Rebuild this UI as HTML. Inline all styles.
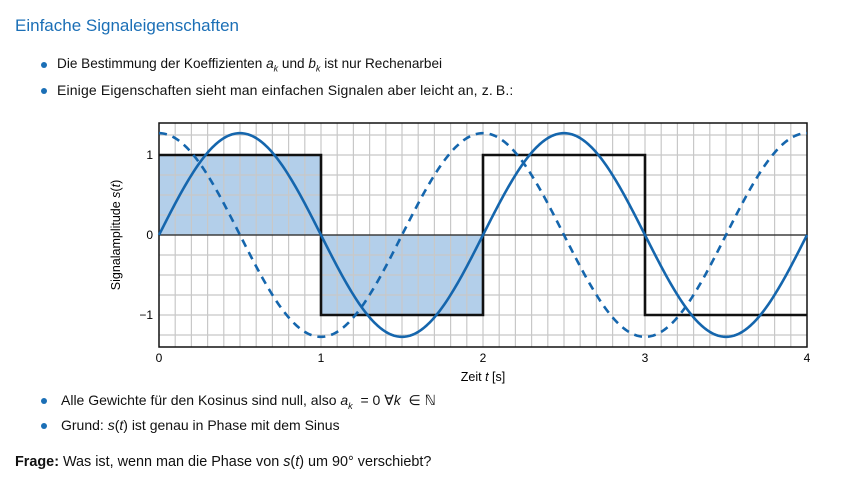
<!DOCTYPE html>
<html><head><meta charset="utf-8"><style>
body{margin:0;width:848px;height:480px;background:#fff;font-family:"Liberation Sans",sans-serif;color:#111;position:relative;overflow:hidden}
.t{position:absolute;white-space:nowrap}
.title{left:15px;top:16px;font-size:17px;color:#1b6fb6}
.b{font-size:14px}
.dot{position:absolute;width:6px;height:6px;border-radius:3px;background:#1b6fb6}
i{font-style:italic}
sub{font-size:9px}
</style></head><body>
<div class="t title">Einfache Signaleigenschaften</div>
<div class="dot" style="left:41px;top:62px"></div>
<div class="t b" style="left:57px;top:56px;font-size:13.6px">Die Bestimmung der Koeffizienten <i>a<sub>k</sub></i> und <i>b<sub>k</sub></i> ist nur Rechenarbei</div>
<div class="dot" style="left:41px;top:88px"></div>
<div class="t b" style="left:57px;top:82px;letter-spacing:0.15px">Einige Eigenschaften sieht man einfachen Signalen aber leicht an, z.&thinsp;B.:</div>
<div class="dot" style="left:41px;top:398px"></div>
<div class="t b" style="left:61px;top:392px">Alle Gewichte für den Kosinus sind null, also <i>a<sub>k</sub></i> &nbsp;= 0 ∀<i>k</i> &nbsp;∈ ℕ</div>
<div class="dot" style="left:41px;top:423px"></div>
<div class="t b" style="left:61px;top:417px">Grund: <i>s</i>(<i>t</i>) ist genau in Phase mit dem Sinus</div>
<div class="t b" style="left:15px;top:454px;font-size:14.4px"><b>Frage:</b> Was ist, wenn man die Phase von <i>s</i>(<i>t</i>) um 90° verschiebt?</div>
<svg id="chart" width="848" height="480" style="position:absolute;left:0;top:0"></svg>
<script>
const xTicks=[0,1,2,3,4];
const yTicks=[-1,0,1];
const squareT=[0,1,1,2,2,3,3,4];
const squareV=[1,1,-1,-1,1,1,-1,-1];
const fillPeriod=[0,2];
const sineAmp=[1.273];
const periodT=[2];
const NS='http://www.w3.org/2000/svg';
const svg=document.getElementById('chart');
const X0=159,X1=807,YT=123,YB=347;
const x=t=>X0+(t-0)/4*(X1-X0);
const y=v=>235-v*80;
function el(tag,a){const e=document.createElementNS(NS,tag);for(const k in a)e.setAttribute(k,a[k]);svg.appendChild(e);return e;}
let fp='M'+x(fillPeriod[0])+','+y(0);
for(let i=0;i<squareT.length;i++){if(squareT[i]<=fillPeriod[1])fp+=' L'+x(squareT[i])+','+y(squareV[i]);}
fp+=' L'+x(fillPeriod[1])+','+y(0)+'Z';
const f=el('path',{d:fp,fill:'#b3cfea'});


for(let k=1;k<40;k++){const g=el('line',{x1:x(k/10),x2:x(k/10),y1:YT,y2:YB,stroke:'#c8c8c8','stroke-width':1.2});

}
for(let v=-1.25;v<=1.26;v+=0.25){const g=el('line',{x1:X0,x2:X1,y1:y(v),y2:y(v),stroke:'#c8c8c8','stroke-width':1.2});

}
el('line',{x1:X0,x2:X1,y1:y(0),y2:y(0),stroke:'#222','stroke-width':1.3});
const fr=el('rect',{x:X0,y:YT,width:X1-X0,height:YB-YT,fill:'none',stroke:'#111','stroke-width':1.5});


let sp='';squareT.forEach((t,i)=>sp+=(i?' L':'M')+x(t)+','+y(squareV[i]));
const sq=el('path',{d:sp,fill:'none',stroke:'#111','stroke-width':2.6});


function curve(fn){let d='';for(let i=0;i<=400;i++){const t=4*i/400;d+=(i?' L':'M')+x(t).toFixed(2)+','+y(sineAmp[0]*fn(2*Math.PI*t/periodT[0])).toFixed(2);}return d;}
const cs=el('path',{d:curve(Math.cos),fill:'none',stroke:'#1566ad','stroke-width':2.6,'stroke-dasharray':'8,6'});


const sn=el('path',{d:curve(Math.sin),fill:'none',stroke:'#1566ad','stroke-width':2.6});


xTicks.forEach(t=>{const l=el('text',{x:x(t),y:362,'font-size':12,'text-anchor':'middle','font-family':'Liberation Sans'});l.textContent=t;

});
yTicks.forEach(v=>{const l=el('text',{x:153,y:y(v)+4,'font-size':12,'text-anchor':'end','font-family':'Liberation Sans'});l.textContent=v<0?'\u2212'+Math.abs(v):v;

});
const xt=el('text',{x:483,y:381,'font-size':12.5,'text-anchor':'middle','font-family':'Liberation Sans'});
xt.innerHTML='Zeit <tspan font-style="italic">t</tspan> [s]';


const yt=el('text',{x:0,y:0,'font-size':12.5,'text-anchor':'middle','font-family':'Liberation Sans',transform:'translate(120,235) rotate(-90)'});
yt.innerHTML='Signalamplitude <tspan font-style="italic">s</tspan>(<tspan font-style="italic">t</tspan>)';


</script>
</body></html>
